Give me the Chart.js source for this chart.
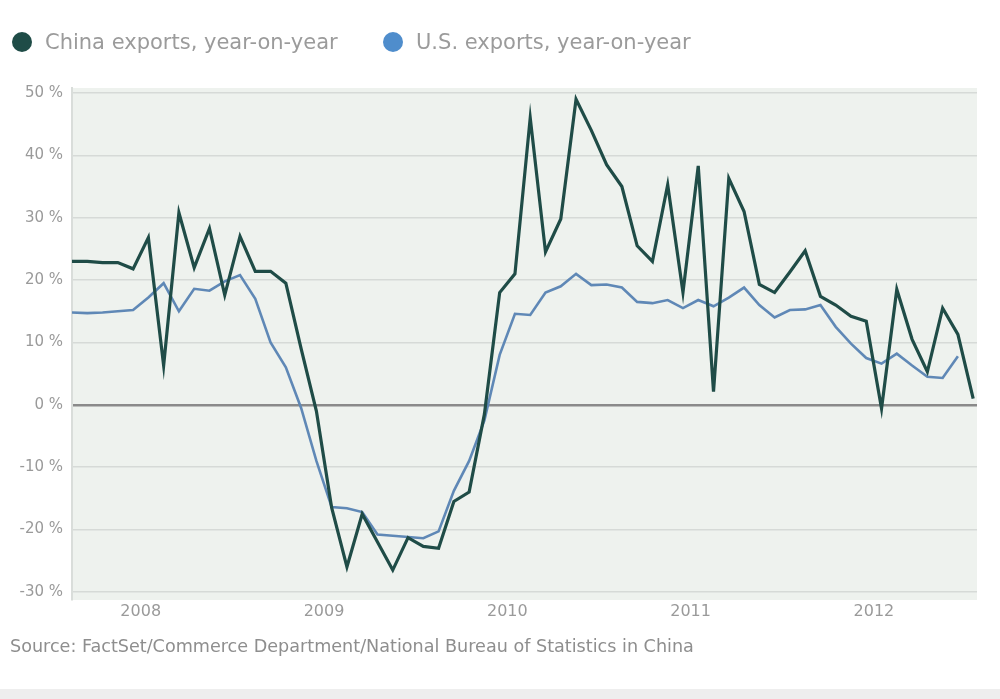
<!DOCTYPE html>
<html>
<head>
<meta charset="utf-8">
<script src="https://cdn.jsdelivr.net/npm/chart.js@4/dist/chart.umd.min.js"></script>
<style>
  html, body { margin: 0; padding: 0; background: #fff; }
  #wrap { position: relative; width: 1000px; height: 699px; overflow: hidden; }
  #chart { position: absolute; left: 0; top: 0; }
  .legend { position: absolute; top: 30px; font: 21px "DejaVu Sans", sans-serif; color: #9b9b9b; white-space: nowrap; }
  .dot { display: inline-block; width: 20px; height: 20px; border-radius: 50%; vertical-align: -3px; margin-right: 13px; }
  #source { position: absolute; left: 10px; top: 636px; font: 17.6px "DejaVu Sans", sans-serif; color: #8e8e8e; white-space: nowrap; }
  #strip { position: absolute; left: 0; top: 689px; width: 1000px; height: 10px; background: #eeeeee; }
</style>
</head>
<body>
<div id="wrap">
  <canvas id="chart" width="1000" height="699"></canvas>
  <div class="legend" style="left:12px"><span class="dot" style="background:#1f4c47"></span>China exports, year-on-year</div>
  <div class="legend" style="left:383px"><span class="dot" style="background:#4f8dcc"></span>U.S. exports, year-on-year</div>
  <div id="source">Source: FactSet/Commerce Department/National Bureau of Statistics in China</div>
  <div id="strip"></div>
</div>
<script>
// monthly, Aug 2007 .. Jul 2012
const months = ['2007-08','2007-09','2007-10','2007-11','2007-12',
  '2008-01','2008-02','2008-03','2008-04','2008-05','2008-06','2008-07','2008-08','2008-09','2008-10','2008-11','2008-12',
  '2009-01','2009-02','2009-03','2009-04','2009-05','2009-06','2009-07','2009-08','2009-09','2009-10','2009-11','2009-12',
  '2010-01','2010-02','2010-03','2010-04','2010-05','2010-06','2010-07','2010-08','2010-09','2010-10','2010-11','2010-12',
  '2011-01','2011-02','2011-03','2011-04','2011-05','2011-06','2011-07','2011-08','2011-09','2011-10','2011-11','2011-12',
  '2012-01','2012-02','2012-03','2012-04','2012-05','2012-06','2012-07'];

const chinaExports = [23, 23, 22.8, 22.8, 21.8,
  26.8, 6.3, 30.8, 22, 28.3, 17.6, 27, 21.4, 21.4, 19.5, 9, -1,
  -16.5, -26, -17.5, -22, -26.5, -21.3, -22.7, -23, -15.5, -14, -1.5, 18,
  21, 46, 24.5, 29.8, 49, 44, 38.5, 35, 25.5, 23, 35.3, 18,
  38.3, 2.1, 36.3, 31, 19.3, 18, 21.3, 24.7, 17.4, 16, 14.2, 13.4,
  -0.6, 18.5, 10.5, 5.3, 15.5, 11.3, 1];

const usExports = [14.8, 14.7, 14.8, 15, 15.2,
  17.2, 19.5, 15, 18.6, 18.3, 19.8, 20.8, 17, 10, 6, -0.5, -9,
  -16.4, -16.6, -17.2, -20.8, -21, -21.2, -21.4, -20.3, -13.8, -9, -2.5, 8,
  14.6, 14.4, 18, 19, 21, 19.2, 19.3, 18.8, 16.5, 16.3, 16.8, 15.5,
  16.8, 15.8, 17.2, 18.8, 16, 14, 15.2, 15.3, 16, 12.5, 9.8, 7.5,
  6.6, 8.2, 6.3, 4.5, 4.3, 7.8, null];

const yearLabels = ['2008', '2009', '2010', '2011', '2012'];
const yearTickPos = [4.5, 16.5, 28.5, 40.5, 52.5];   // between Dec and Jan
const yTicks = [-30, -20, -10, 0, 10, 20, 30, 40, 50];

const plotBg = {
  id: 'plotBg',
  beforeDraw(chart) {
    const { ctx, chartArea: a } = chart;
    ctx.save();
    ctx.fillStyle = '#eef2ee';
    ctx.fillRect(a.left, a.top, a.right - a.left, a.bottom - a.top);
    ctx.restore();
  }
};

new Chart(document.getElementById('chart'), {
  type: 'line',
  data: {
    datasets: [
      {
        label: 'China exports, year-on-year',
        data: chinaExports.map((v, i) => ({ x: i, y: v })),
        borderColor: '#1f4c47',
        borderWidth: 3.2,
        pointRadius: 0,
        tension: 0
      },
      {
        label: 'U.S. exports, year-on-year',
        data: usExports.map((v, i) => ({ x: i, y: v })),
        borderColor: '#5f88b6',
        borderWidth: 2.6,
        pointRadius: 0,
        tension: 0
      }
    ]
  },
  options: {
    responsive: false,
    animation: false,
    layout: { padding: { top: 88, right: 23, bottom: 0, left: 0 } },
    plugins: { legend: { display: false }, tooltip: { enabled: false } },
    scales: {
      x: {
        type: 'linear',
        min: 0,
        max: 59.25,
        afterBuildTicks: s => { s.ticks = yearTickPos.map(v => ({ value: v })); },
        afterFit: s => { s.height = 99; },
        grid: { display: false, drawTicks: false },
        border: { display: false },
        ticks: {
          autoSkip: false,
          maxRotation: 0,
          padding: 2,
          color: '#9a9a9a',
          font: { family: 'DejaVu Sans', size: 16 },
          callback: v => yearLabels[yearTickPos.indexOf(v)]
        }
      },
      y: {
        min: -31.3,
        max: 50.8,
        afterBuildTicks: s => { s.ticks = yTicks.map(v => ({ value: v })); },
        afterFit: s => { s.width = 72; },
        border: { display: true, color: '#d9ddda', width: 2 },
        grid: {
          drawTicks: false,
          color: c => c.tick && c.tick.value === 0 ? '#8a8a8a' : '#d6dad7',
          lineWidth: c => c.tick && c.tick.value === 0 ? 2.5 : 1.5
        },
        ticks: {
          padding: 9,
          color: '#9a9a9a',
          font: { family: 'DejaVu Sans', size: 15 },
          callback: v => v + ' %'
        }
      }
    }
  },
  plugins: [plotBg]
});
</script>
</body>
</html>
